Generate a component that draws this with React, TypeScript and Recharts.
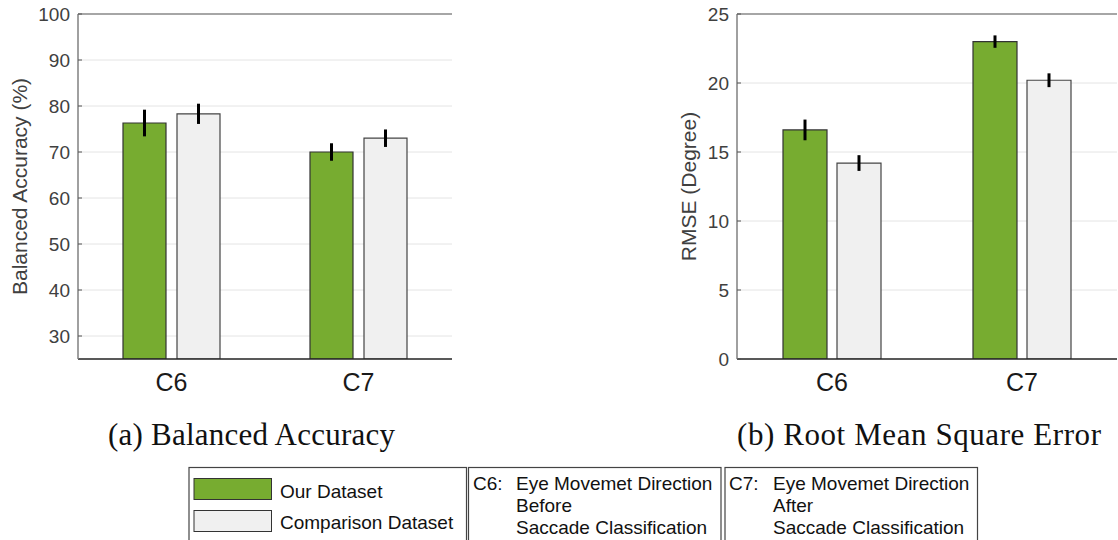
import { Bar, BarChart, CartesianGrid, ErrorBar, ReferenceLine, XAxis, YAxis } from "recharts";

const categories = ["C6", "C7"];
const accuracyOurs = [76.3, 70.0];
const accuracyOursErr = [2.9, 1.9];
const accuracyComparison = [78.3, 73.0];
const accuracyComparisonErr = [2.2, 1.9];
const rmseOurs = [16.6, 23.0];
const rmseOursErr = [0.75, 0.45];
const rmseComparison = [14.2, 20.2];
const rmseComparisonErr = [0.57, 0.5];
const accuracyTicks = [30, 40, 50, 60, 70, 80, 90, 100];
const rmseTicks = [0, 5, 10, 15, 20, 25];

const GREEN = "#77AC30";
const LIGHT = "#F0F0F0";
const SANS = "'Liberation Sans', Arial, sans-serif";
const SERIF = "'Liberation Serif', 'Times New Roman', serif";

type Row = { label: string; ours: number; oursErr: number; comp: number; compErr: number };

const accuracyRows: Row[] = categories.map((label, i) => ({
  label,
  ours: accuracyOurs[i],
  oursErr: accuracyOursErr[i],
  comp: accuracyComparison[i],
  compErr: accuracyComparisonErr[i],
}));

const rmseRows: Row[] = categories.map((label, i) => ({
  label,
  ours: rmseOurs[i],
  oursErr: rmseOursErr[i],
  comp: rmseComparison[i],
  compErr: rmseComparisonErr[i],
}));

function Panel({
  data,
  domain,
  ticks,
  yLabel,
  left,
  width,
  yWidth,
  marginRight,
  barSize,
  barGap,
  labelDx,
}: {
  data: Row[];
  domain: [number, number];
  ticks: number[];
  yLabel: string;
  left: number;
  width: number;
  yWidth: number;
  marginRight: number;
  barSize: number;
  barGap: number;
  labelDx: number;
}) {
  return (
    <div style={{ position: "absolute", left, top: 0 }}>
      <BarChart
        width={width}
        height={400}
        data={data}
        margin={{ top: 14, right: marginRight, bottom: 5, left: 0 }}
        barSize={barSize}
        barGap={barGap}
        style={{ fontFamily: SANS }}
      >
        <CartesianGrid vertical={false} stroke="#e4e4e4" />
        <XAxis
          dataKey="label"
          height={36}
          axisLine={{ stroke: "#262626", strokeWidth: 1.5 }}
          tickLine={false}
          tickMargin={8}
          tick={{ fill: "#1a1a1a", fontSize: 25 }}
        />
        <YAxis
          type="number"
          domain={domain}
          ticks={ticks}
          interval={0}
          allowDataOverflow
          width={yWidth}
          axisLine={{ stroke: "#808080", strokeWidth: 1.5 }}
          tickLine={{ stroke: "#555" }}
          tickSize={-4}
          tickMargin={12}
          tick={{ fill: "#404040", fontSize: 19 }}
          label={{
            value: yLabel,
            angle: -90,
            position: "center",
            dx: labelDx,
            style: { fill: "#404040", fontSize: 21, fontFamily: SANS },
          }}
        />
        <YAxis
          yAxisId="frame"
          orientation="right"
          type="number"
          domain={domain}
          ticks={ticks}
          interval={0}
          width={0}
          axisLine={{ stroke: "#8c8c8c", strokeWidth: 1.5 }}
          tickLine={{ stroke: "#555" }}
          tickSize={-4}
          tickFormatter={() => ""}
        />
        <ReferenceLine y={domain[1]} stroke="#8c8c8c" strokeWidth={1.5} />
        <Bar dataKey="ours" fill={GREEN} stroke="#333" strokeWidth={1.2} isAnimationActive={false}>
          <ErrorBar dataKey="oursErr" width={0} strokeWidth={3} stroke="#000" />
        </Bar>
        <Bar dataKey="comp" fill={LIGHT} stroke="#444" strokeWidth={1.2} isAnimationActive={false}>
          <ErrorBar dataKey="compErr" width={0} strokeWidth={3} stroke="#000" />
        </Bar>
      </BarChart>
    </div>
  );
}

export default function App() {
  return (
    <div
      style={{
        position: "absolute",
        left: 0,
        top: 0,
        width: 1118,
        height: 540,
        background: "#fff",
        overflow: "hidden",
      }}
    >
      <Panel
        data={accuracyRows}
        domain={[25, 100]}
        ticks={accuracyTicks}
        yLabel="Balanced Accuracy (%)"
        left={0}
        width={460}
        yWidth={78}
        marginRight={8}
        barSize={43}
        barGap={11}
        labelDx={-19}
      />
      <Panel
        data={rmseRows}
        domain={[0, 25]}
        ticks={rmseTicks}
        yLabel="RMSE (Degree)"
        left={660}
        width={458}
        yWidth={77}
        marginRight={1}
        barSize={44}
        barGap={10}
        labelDx={-10}
      />
      <svg
        width={1118}
        height={540}
        style={{ position: "absolute", left: 0, top: 0, pointerEvents: "none" }}
      >
        <g fontFamily={SERIF} fontSize={31} fill="#111">
          <text x={108} y={445} textLength={287} lengthAdjust="spacing">
            (a) Balanced Accuracy
          </text>
          <text x={737} y={445} textLength={364} lengthAdjust="spacing">
            (b) Root Mean Square Error
          </text>
        </g>
        <g fill="none" stroke="#444" strokeWidth={1.2}>
          <rect x={189} y={467.5} width={277.5} height={80} />
          <rect x={468.5} y={467.5} width={252.5} height={80} />
          <rect x={725} y={467.5} width={252.5} height={80} />
        </g>
        <rect x={194} y={478.5} width={77.5} height={21} fill={GREEN} stroke="#333" strokeWidth={1} />
        <rect x={194} y={510.5} width={77.5} height={21} fill={LIGHT} stroke="#333" strokeWidth={1} />
        <g fontFamily={SANS} fontSize={19} fill="#111">
          <text x={280} y={498}>Our Dataset</text>
          <text x={280} y={529}>Comparison Dataset</text>
          <text x={473} y={489.5}>C6:</text>
          <text x={516} y={489.5}>Eye Movemet Direction</text>
          <text x={516} y={511.5}>Before</text>
          <text x={516} y={534}>Saccade Classification</text>
          <text x={729} y={489.5}>C7:</text>
          <text x={773} y={489.5}>Eye Movemet Direction</text>
          <text x={773} y={511.5}>After</text>
          <text x={773} y={534}>Saccade Classification</text>
        </g>
      </svg>
    </div>
  );
}
